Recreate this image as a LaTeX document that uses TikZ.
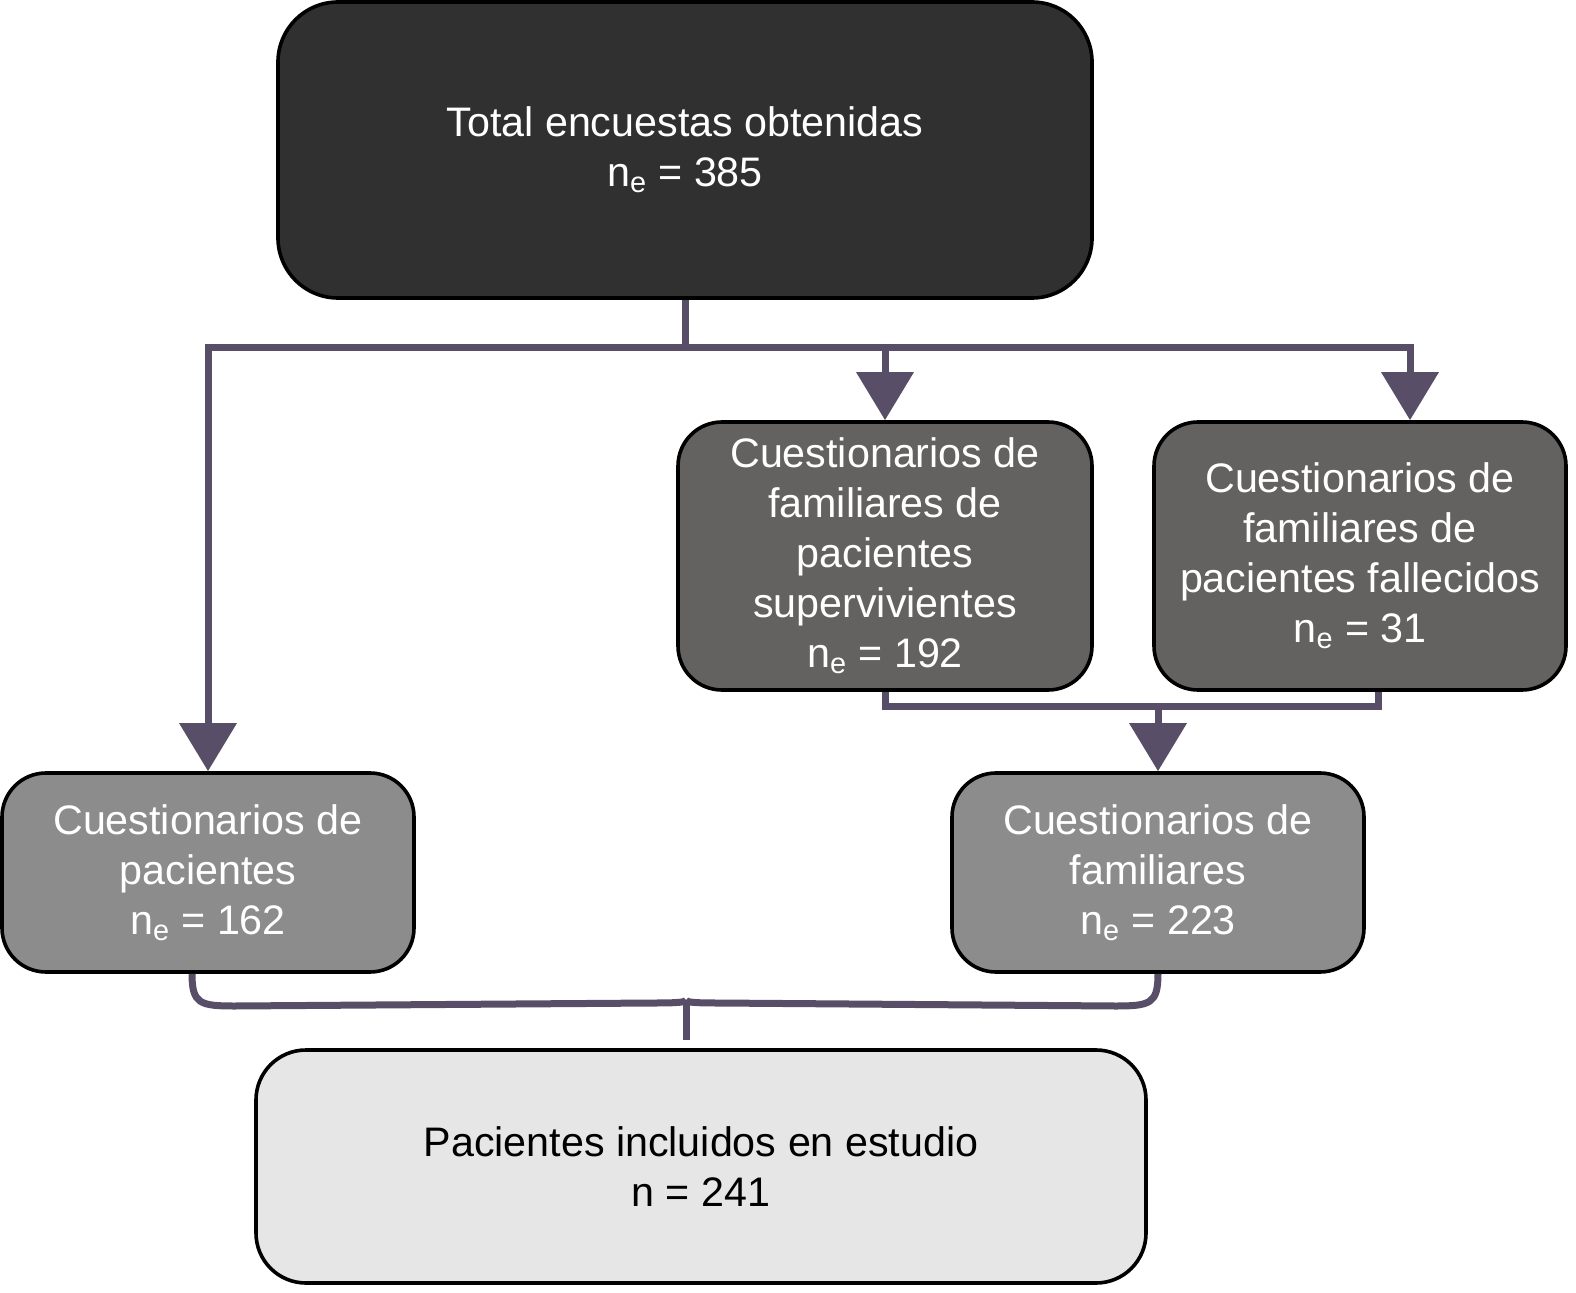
\documentclass[tikz,border=0pt]{standalone}
\usepackage{fontspec}
\setmainfont{Liberation Sans}
\usetikzlibrary{positioning}
\usetikzlibrary{arrows.meta}
\definecolor{boxblack}{RGB}{48,48,48}
\definecolor{boxdark}{RGB}{99,98,96}
\definecolor{boxmid}{RGB}{139,140,139}
\definecolor{boxlight}{RGB}{230,230,230}
\definecolor{linkcol}{RGB}{88,78,103}
\newcommand{\nsub}[1]{n\textsubscript{e} = #1}

\begin{document}
\begin{tikzpicture}[x=0.5bp,y=-0.5bp,
every node/.style = {align=center, font=\fontsize{20.7pt}{25.1pt}\selectfont},
box/.style={draw=black, line width=1.8bp, rounded corners=22bp, inner sep=0pt},
link/.style={draw=linkcol, line width=3.5bp},
arrow/.style={link, -{Triangle[width=28bp,length=24bp]}}]
\useasboundingbox (0,0) rectangle (1576,1293);
\node[box, fill=boxblack, text=white, rounded corners=30bp, minimum width=407bp, minimum height=148bp]
    (total) at (685,150) {Total encuestas obtenidas\\ \nsub{385}};
\node[box, fill=boxdark, text=white, minimum width=207bp, minimum height=134bp]
    (sup) at (885,556) {Cuestionarios de\\ familiares de\\ pacientes\\ supervivientes\\ \nsub{192}};
\node[box, fill=boxdark, text=white, minimum width=206bp, minimum height=134bp]
    (fal) at (1360,556) {Cuestionarios de\\ familiares de\\ pacientes fallecidos\\ \nsub{31}};
\node[box, fill=boxmid, text=white, minimum width=206bp, minimum height=99.5bp]
    (pac) at (208,872.5) {Cuestionarios de\\ pacientes\\ \nsub{162}};
\node[box, fill=boxmid, text=white, minimum width=206bp, minimum height=99.5bp]
    (fam) at (1158,872.5) {Cuestionarios de\\ familiares\\ \nsub{223}};
\node[box, fill=boxlight, text=black, rounded corners=25bp, minimum width=445bp, minimum height=116.5bp]
    (inc) at (701,1166.5) {Pacientes incluidos en estudio\\ n = 241};
% branches from the top box
\coordinate (bus) at (685,348);
\draw [link] (total.south) -- (bus);
\draw [arrow] (bus) -| (pac.north);
\draw [arrow] (bus) -| (sup.north);
\draw [arrow] (bus) -| ([xshift=25bp]fal.north);
% families join
\coordinate (join) at (1158,706);
\draw [link] (sup.south) |- (join);
\draw [link] ([xshift=9bp]fal.south) |- (join);
\draw [arrow] (join) -- (fam.north);
% brace to included
\coordinate (cusp) at (686,1000);
\coordinate (tip) at (686,1040);
\draw [link] ([xshift=-8bp]pac.south) .. controls (192,1004) and (200,1006) .. (235,1006)
    -- (655,1003) .. controls (680,1003) and (686,1002) .. (cusp);
\draw [link] (fam.south) .. controls (1158,1004) and (1150,1006) .. (1115,1006)
    -- (717,1003) .. controls (692,1003) and (686,1002) .. (cusp);
\draw [link] (cusp) -- (tip);
\end{tikzpicture}
\end{document}
